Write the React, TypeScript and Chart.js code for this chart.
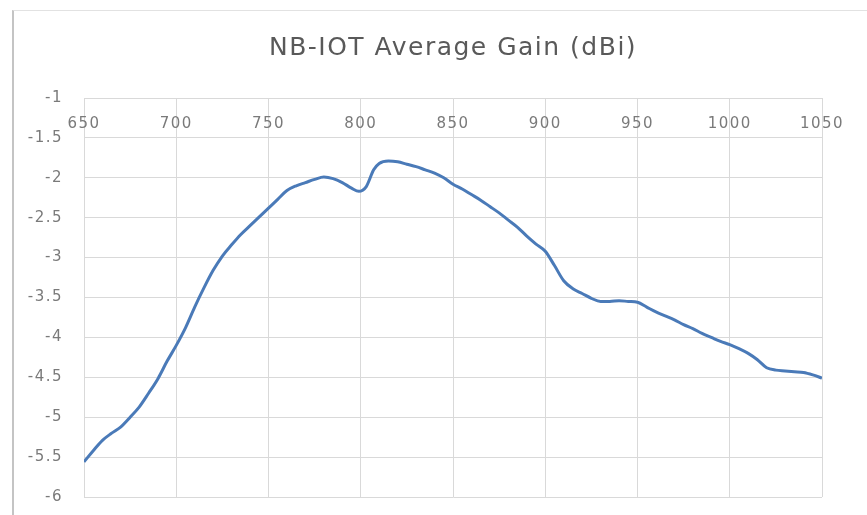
import React, { useEffect, useRef } from "react";
import { Chart, registerables } from "chart.js";

Chart.register(...registerables);

const TITLE = "NB-IOT Average Gain (dBi)";

const frequencies = [
  650, 655, 660, 665, 670, 675, 680, 685, 690, 695, 700, 705, 710, 715, 720, 725, 730, 735, 740, 745,
  750, 755, 760, 765, 770, 775, 780, 785, 790, 795, 799, 803, 807, 810, 815, 820, 825, 830, 835, 840,
  845, 850, 855, 860, 865, 870, 875, 880, 885, 890, 895, 900, 905, 910, 915, 920, 925, 930, 935, 940,
  945, 950, 955, 960, 965, 970, 975, 980, 985, 990, 995, 1000, 1005, 1010, 1015, 1020, 1025, 1030, 1035,
  1040, 1045, 1050,
];

const gains = [
  -5.56, -5.42, -5.29, -5.2, -5.12, -5.0, -4.87, -4.7, -4.52, -4.3, -4.1, -3.88, -3.62, -3.38, -3.16,
  -2.98, -2.84, -2.71, -2.6, -2.49, -2.38, -2.27, -2.16, -2.1, -2.06, -2.02, -1.99, -2.01, -2.06, -2.13,
  -2.17, -2.11, -1.9, -1.82, -1.79, -1.8, -1.83, -1.86, -1.9, -1.94, -2.0, -2.08, -2.14, -2.21, -2.28,
  -2.36, -2.44, -2.53, -2.62, -2.73, -2.83, -2.92, -3.1, -3.29, -3.39, -3.45, -3.51, -3.55, -3.55, -3.54,
  -3.55, -3.56, -3.62, -3.68, -3.73, -3.78, -3.84, -3.89, -3.95, -4.0, -4.05, -4.09, -4.14, -4.2, -4.28,
  -4.38, -4.41, -4.42, -4.43, -4.44, -4.47, -4.51,
];

const X_MIN = 650;
const X_MAX = 1050;
const X_STEP = 50;
const Y_MIN = -6;
const Y_MAX = -1;
const Y_STEP = 0.5;

const TEXT_COLOR = "#7a7a7a";
const GRID_COLOR = "#d9d9d9";
const LINE_COLOR = "#4a7ab8";
const FONT_FAMILY = "'DejaVu Sans', sans-serif";

const spacingPlugin = {
  id: "letterSpacing",
  beforeDraw(chart: any) {
    (chart.ctx as any).letterSpacing = "1.5px";
  },
  afterDraw(chart: any) {
    (chart.ctx as any).letterSpacing = "0px";
  },
};

const topLabelsPlugin = {
  id: "topXLabels",
  afterDatasetsDraw(chart: any) {
    const xs = chart.scales.x;
    const ys = chart.scales.y;
    const ctx = chart.ctx;
    ctx.save();
    ctx.fillStyle = TEXT_COLOR;
    ctx.font = `15px ${FONT_FAMILY}`;
    ctx.textAlign = "center";
    ctx.textBaseline = "middle";
    const yPix = ys.getPixelForValue(Y_MAX) + 26;
    xs.ticks.forEach((t: any) => {
      ctx.fillText(String(t.value), xs.getPixelForValue(t.value), yPix);
    });
    ctx.restore();
  },
};

export default function App() {
  const canvasRef = useRef<HTMLCanvasElement | null>(null);

  useEffect(() => {
    document.body.style.margin = "0";
    const canvas = canvasRef.current;
    if (!canvas) return;
    const chart = new Chart(canvas, {
      type: "line",
      data: {
        datasets: [
          {
            label: TITLE,
            data: frequencies.map((f, i) => ({ x: f, y: gains[i] })),
            borderColor: LINE_COLOR,
            borderWidth: 3,
            pointRadius: 0,
            fill: false,
            cubicInterpolationMode: "monotone",
          },
        ],
      },
      options: {
        animation: false,
        responsive: true,
        maintainAspectRatio: false,
        devicePixelRatio: 1,
        layout: { padding: { left: 0, right: 45, top: 0, bottom: 18 } },
        plugins: {
          legend: { display: false },
          tooltip: { enabled: false },
          title: {
            display: true,
            fullSize: false,
            text: TITLE,
            color: "#595959",
            font: { family: FONT_FAMILY, size: 25, weight: "normal" },
            padding: { top: 33, bottom: 35 },
          },
        },
        scales: {
          x: {
            type: "linear",
            position: "top",
            min: X_MIN,
            max: X_MAX,
            ticks: { display: false, stepSize: X_STEP },
            grid: { color: GRID_COLOR, drawTicks: false, lineWidth: 1 },
            border: { color: GRID_COLOR },
          },
          y: {
            type: "linear",
            min: Y_MIN,
            max: Y_MAX,
            ticks: {
              stepSize: Y_STEP,
              padding: 21,
              color: TEXT_COLOR,
              font: { family: FONT_FAMILY, size: 15 },
              callback: (v: any) => String(Number(v)),
            },
            grid: { color: GRID_COLOR, drawTicks: false, lineWidth: 1 },
            border: { color: GRID_COLOR },
            afterFit(scale: any) {
              scale.width = 84;
              scale.paddingTop = 0;
              scale.paddingBottom = 0;
            },
          },
        },
      },
      plugins: [spacingPlugin, topLabelsPlugin],
    });
    return () => chart.destroy();
  }, []);

  return (
    <div style={{ position: "relative", width: 867, height: 515, background: "#fff" }}>
      <canvas ref={canvasRef} style={{ display: "block" }} />
      <div
        style={{
          position: "absolute",
          left: 12,
          top: 10,
          width: 855,
          height: 505,
          borderLeft: "2px solid #c4c4c4",
          borderTop: "1px solid #e2e2e2",
          boxSizing: "border-box",
          pointerEvents: "none",
        }}
      />
    </div>
  );
}
